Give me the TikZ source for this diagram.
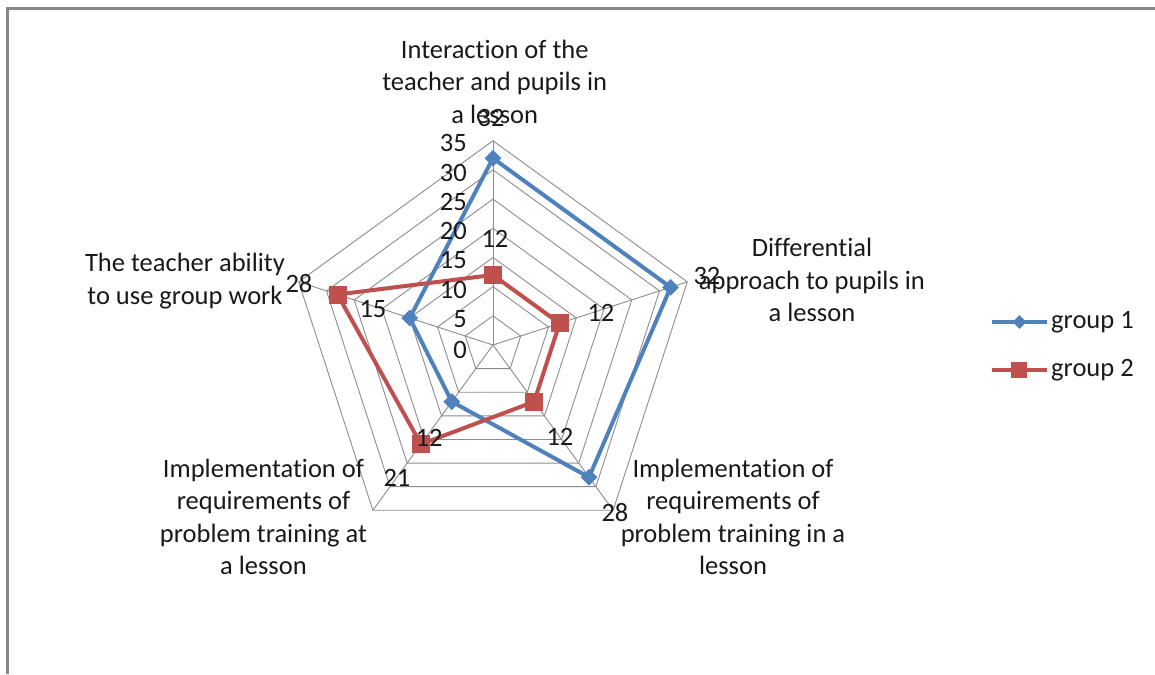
\documentclass[tikz,border=0pt]{standalone}
\usepackage{fontspec}
\setmainfont[Ligatures=NoCommon]{Carlito}
\usetikzlibrary{shapes.geometric}
\definecolor{gridgray}{RGB}{140,140,140}
\definecolor{framegray}{RGB}{136,136,136}
\definecolor{serblue}{RGB}{79,129,189}
\definecolor{serred}{RGB}{192,80,77}
\begin{document}
\begin{tikzpicture}[x=5.837pt, y=5.837pt,
    font=\fontsize{26.5}{32.5}\selectfont, text=black!90,
    ring/.style={draw=gridgray, line width=0.9pt},
    ser1/.style={draw=serblue, line width=4pt, line join=round},
    ser2/.style={draw=serred, line width=4pt, line join=round},
    mk1/.style={diamond, fill=serblue, inner sep=0pt, minimum size=17pt},
    mk2/.style={rectangle, fill=serred, inner sep=0pt, minimum size=18pt},
    cat/.style={align=center},
    val/.style={inner sep=0pt}]
    \useasboundingbox (-84.46,-56.37) rectangle (113.42,59.11);
    \draw[framegray, line width=3pt] (-83.2,-56.37) -- (-83.2,57.6) -- (113.42,57.6);
    % axes
    \coordinate (o) at (0,0);
    \coordinate (a1) at (90:35);
    \coordinate (a2) at (18:35);
    \coordinate (a3) at (-54:35);
    \coordinate (a4) at (-126:35);
    \coordinate (a5) at (162:35);
    \draw[ring] (90:5) -- (18:5) -- (-54:5) -- (-126:5) -- (162:5) -- cycle;
    \draw[ring] (90:10) -- (18:10) -- (-54:10) -- (-126:10) -- (162:10) -- cycle;
    \draw[ring] (90:15) -- (18:15) -- (-54:15) -- (-126:15) -- (162:15) -- cycle;
    \draw[ring] (90:20) -- (18:20) -- (-54:20) -- (-126:20) -- (162:20) -- cycle;
    \draw[ring] (90:25) -- (18:25) -- (-54:25) -- (-126:25) -- (162:25) -- cycle;
    \draw[ring] (90:30) -- (18:30) -- (-54:30) -- (-126:30) -- (162:30) -- cycle;
    \draw[ring] (a1) -- (a2) -- (a3) -- (a4) -- (a5) -- cycle;
    \draw[ring] (o) -- (a1);
    \draw[ring] (o) -- (a2);
    \draw[ring] (o) -- (a3);
    \draw[ring] (o) -- (a4);
    \draw[ring] (o) -- (a5);
    %\draw[red] (o) circle (35);
    % group 1
    \coordinate (g1a) at (90:32);
    \coordinate (g1b) at (18:32);
    \coordinate (g1c) at (-54:28);
    \coordinate (g1d) at (-126:12);
    \coordinate (g1e) at (162:15);
    \draw[ser1] (g1a) -- (g1b) -- (g1c) -- (g1d) -- (g1e) -- cycle;
    \node[mk1] (m1a) at (g1a) {};
    \node[mk1] (m1b) at (g1b) {};
    \node[mk1] (m1c) at (g1c) {};
    \node[mk1] (m1d) at (g1d) {};
    \node[mk1] (m1e) at (g1e) {};
    % group 2
    \coordinate (g2a) at (90:12);
    \coordinate (g2b) at (18:12);
    \coordinate (g2c) at (-54:12);
    \coordinate (g2d) at (-126:21);
    \coordinate (g2e) at (162:28);
    \draw[ser2] (g2a) -- (g2b) -- (g2c) -- (g2d) -- (g2e) -- cycle;
    \node[mk2] (m2a) at (g2a) {};
    \node[mk2] (m2b) at (g2b) {};
    \node[mk2] (m2c) at (g2c) {};
    \node[mk2] (m2d) at (g2d) {};
    \node[mk2] (m2e) at (g2e) {};
    % scale
    \node[val, anchor=east] (t0) at (-4.45,-0.8) {0};
    \node[val, anchor=east] (t5) at (-4.45,4.5) {5};
    \node[val, anchor=east] (t10) at (-4.45,9.5) {10};
    \node[val, anchor=east] (t15) at (-4.45,14.5) {15};
    \node[val, anchor=east] (t20) at (-4.45,19.5) {20};
    \node[val, anchor=east] (t25) at (-4.45,24.5) {25};
    \node[val, anchor=east] (t30) at (-4.45,29.5) {30};
    \node[val, anchor=east] (t35) at (-4.45,34.6) {35};
    % category names
    \node[cat] (c1) at (0.3,45.1) {Interaction of the\\teacher and pupils in\\a lesson};
    \node[cat] (c2) at (54.65,11.14) {Differential\\approach to pupils in\\a lesson};
    \node[cat] (c3) at (41.12,-29.47) {Implementation of\\requirements of\\problem training in a\\lesson};
    \node[cat] (c4) at (-39.32,-29.47) {Implementation of\\requirements of\\problem training at\\a lesson};
    \node[cat] (c5) at (-52.77,10.96) {The teacher ability\\to use group work};
    % values
    \node[val] (v1a) at (-0.34,38.89) {32};
    \node[val] (v1b) at (36.66,11.82) {32};
    \node[val] (v1c) at (20.9,-28.78) {28};
    \node[val] (v1d) at (-10.96,-15.93) {12};
    \node[val] (v1e) at (-20.56,6.17) {15};
    \node[val] (v2a) at (0.34,18.16) {12};
    \node[val] (v2b) at (18.5,5.48) {12};
    \node[val] (v2c) at (11.48,-15.76) {12};
    \node[val] (v2d) at (-16.45,-22.79) {21};
    \node[val] (v2e) at (-33.24,10.45) {28};
    % legend
    \coordinate (l1s) at (85.5,3.94);
    \coordinate (l1e) at (94.9,3.94);
    \coordinate (l2s) at (85.5,-4.28);
    \coordinate (l2e) at (94.9,-4.28);
    \draw[ser1] (l1s) -- (l1e);
    \draw[ser2] (l2s) -- (l2e);
    \node[mk1, minimum size=14pt] (lm1) at (90.2,3.94) {};
    \node[mk2, minimum size=16pt] (lm2) at (90.2,-4.28) {};
    \node[val, anchor=west] (lt1) at (95.6,3.94) {group 1};
    \node[val, anchor=west] (lt2) at (95.6,-4.28) {group 2};
\end{tikzpicture}
\end{document}
